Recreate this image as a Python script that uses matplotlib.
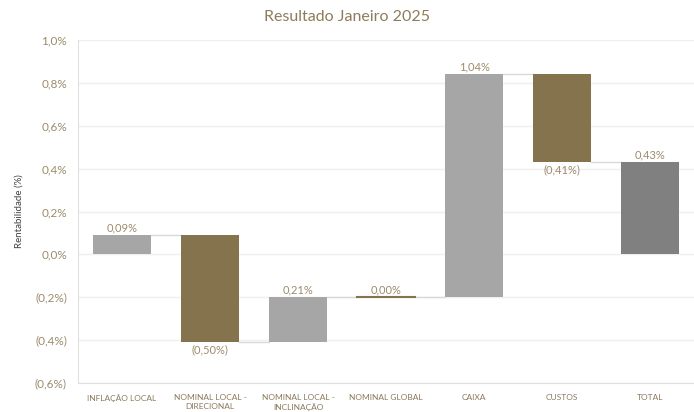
import matplotlib.pyplot as plt
import numpy as np
from matplotlib.ticker import FuncFormatter

categorias = ["INFLAÇÃO LOCAL", "NOMINAL LOCAL -\nDIRECIONAL", "NOMINAL LOCAL -\nINCLINAÇÃO",
              "NOMINAL GLOBAL", "CAIXA", "CUSTOS", "TOTAL"]
valores = [0.09, -0.50, 0.21, 0.00, 1.04, -0.41]
total = 0.43

cinza = "#a6a6a6"
marrom = "#85734d"
cinza_total = "#808080"
cor_texto = "#9c8b6c"

plt.rcParams['font.family'] = ['Lato', 'DejaVu Sans']

def fmt(v):
    s = f"{abs(v):.2f}".replace(".", ",") + "%"
    return f"({s})" if v < 0 else s

def fmt_eixo(v, pos):
    s = f"{abs(v):.1f}".replace(".", ",") + "%"
    return f"({s})" if v < -1e-9 else s

# base e topo de cada barra (cascata)
acum = np.cumsum(valores)
inicio = np.concatenate([[0], acum[:-1]])
fim = acum

fig = plt.figure(figsize=(6.94, 4.12), dpi=100)
ax = fig.add_axes([0.1124, 0.0704, 0.8876, 0.8325])

x = np.arange(len(categorias))
largura = 0.67
for i, v in enumerate(valores):
    cor = cinza if v > 0 else marrom
    base = min(inicio[i], fim[i])
    altura = abs(v)
    if altura == 0:
        ax.plot([i - largura / 2, i + largura / 2], [base, base], color=marrom, lw=1.5, zorder=3)
    else:
        ax.bar(i, altura, bottom=base, width=largura, color=cor, zorder=3)
    if v >= 0:
        ax.text(i, max(inicio[i], fim[i]) + 0.008, fmt(v), ha="center", va="bottom",
                fontsize=8, color=cor_texto)
    else:
        ax.text(i, min(inicio[i], fim[i]) - 0.008, fmt(v), ha="center", va="top",
                fontsize=8, color=cor_texto)

ax.bar(6, total, width=largura, color=cinza_total, zorder=3)
ax.text(6, total + 0.008, fmt(total), ha="center", va="bottom", fontsize=8, color=cor_texto)

# conectores
for i in range(len(valores)):
    ax.plot([i + largura / 2, i + 1 - largura / 2], [fim[i], fim[i]],
            color="#d9d9d9", lw=1, zorder=2)

ax.set_xlim(-0.5, 6.5)
ax.set_ylim(-0.6, 1.0)
ax.set_yticks(np.arange(-0.6, 1.01, 0.2))
ax.yaxis.set_major_formatter(FuncFormatter(fmt_eixo))
ax.set_xticks(x)
ax.set_xticklabels(categorias, fontsize=6, color="#8a7a5c", linespacing=1.3)
ax.tick_params(axis="y", labelsize=8.5, colors=cor_texto, length=0, pad=8)
ax.tick_params(axis="x", length=0, pad=8)
ax.grid(axis="y", color="#efefef", lw=1, zorder=0)
for lado in ["top", "right"]:
    ax.spines[lado].set_visible(False)
ax.spines["left"].set_color("#e0e0e0")
ax.spines["bottom"].set_color("#e0e0e0")
ax.set_ylabel("Rentabilidade (%)", fontsize=7, color="#404040", labelpad=8)

fig.suptitle("Resultado Janeiro 2025", y=0.975, fontsize=11.5, color="#8d7c5b")

fig.savefig("out.png", dpi=100)
